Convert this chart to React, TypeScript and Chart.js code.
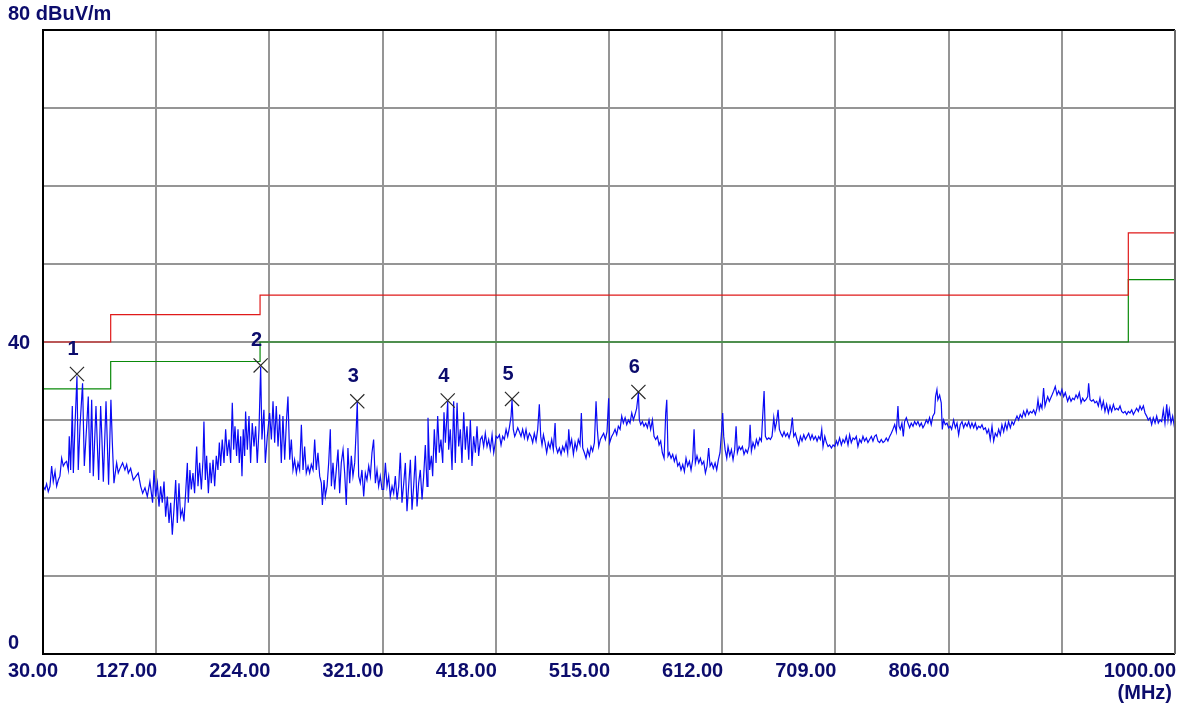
import React, { useEffect, useRef } from 'react';
import { Chart, registerables } from 'chart.js';

Chart.register(...registerables);

const NAVY = '#0c0c6c';
const FONT = 'bold 20px "Liberation Sans", Arial, sans-serif';

const xTickValues = [30, 127, 224, 321, 418, 515, 612, 709, 806, 903, 1000];
const xTickLabels = ['30.00', '127.00', '224.00', '321.00', '418.00', '515.00', '612.00', '709.00', '806.00', '', '1000.00'];
const yTickValues = [0, 10, 20, 30, 40, 50, 60, 70, 80];
const yLabelValues = [80, 40, 0];
const yLabelTexts = ['80 dBuV/m', '40', '0'];

const limitFreq = [30, 88, 88, 216, 216, 960, 960, 1000];
const limitLevel = [40, 40, 43.5, 43.5, 46, 46, 54, 54];
const marginFreq = [30, 88, 88, 216, 216, 960, 960, 1000];
const marginLevel = [34, 34, 37.5, 37.5, 40, 40, 48, 48];

const markerNames = ['1', '2', '3', '4', '5', '6'];
const markerFreq = [59.1, 216.5, 299.3, 376.8, 431.9, 540.2];
const markerLevel = [35.9, 37.0, 32.4, 32.5, 32.7, 33.6];

// measured trace: [frequency MHz, level dBuV/m]
const trace: [number, number][] = [
  [30, 20.8], [30.3, 21.5], [31.7, 21.1], [33.1, 21.8], [34.5, 20.8], [36, 21.5], [37.4, 24.1], [38.8, 22.1], [40.3, 23.4],
  [41.7, 21.5], [43.1, 22.3], [44.5, 22.8], [46, 25.1], [47.4, 24.1], [48.8, 24.5], [50.2, 24.7], [51.7, 23.6],
  [52.5, 27.9], [53.7, 23.6], [55.1, 31.8], [56, 23.2], [57.4, 29.2], [59.1, 35.6], [60.2, 23.6], [61.7, 29.2],
  [63.9, 34.7], [65.4, 24.1], [67.4, 29.2], [68.8, 33.0], [70.2, 23.2], [71.7, 32.6], [73.1, 22.8], [75.4, 31.8],
  [76.5, 27.1], [77.7, 22.3], [79.4, 31.8], [80.5, 27.5], [81.7, 22.1], [84, 32.4], [85.1, 27.1], [86.2, 21.7],
  [88.2, 32.6], [89.4, 27.1], [90.8, 21.9], [93.1, 24.5], [94.5, 23.2], [96, 23.8], [98.2, 24.5], [100.2, 23.6],
  [101.7, 24.3], [103.1, 23.2], [105.1, 23.8], [107.4, 22.3], [109.7, 22.8], [111.6, 23.2], [113.7, 21.5],
  [115.4, 20.6], [117.4, 21.3], [119.4, 20.2], [121.6, 22.1], [123.9, 19.4],
  [125.1, 23.6], [126.5, 20.2], [128, 21.9], [129.4, 18.9], [130.8, 21.5], [132.2, 19.4], [133.7, 22.1], [135.1, 17.6],
  [136.5, 20.2], [138, 16.8], [139.4, 19.4], [140.8, 15.3], [142.2, 18.5], [143.7, 22.3], [145.1, 16.8], [146.5, 21.9],
  [147.9, 17.6], [149.4, 18.5], [150.8, 17.0], [152.2, 20.6], [153.7, 24.5], [154.5, 19.4], [155.9, 23.6], [157.1, 21.1],
  [158.5, 23.2], [159.9, 20.6], [161.7, 26.6], [162.8, 21.5], [164.2, 24.5], [165.7, 21.1], [167.1, 24.9], [167.9, 29.8],
  [169.1, 22.3], [170.2, 25.4], [171.7, 20.6], [173.1, 24.5], [174.2, 21.9], [175.7, 24.9], [177.1, 21.5], [178.5, 25.4],
  [179.9, 23.6], [181.1, 27.1], [182.2, 24.1], [183.6, 27.5], [185.1, 24.5], [186.5, 28.8], [187.9, 25.4], [189.4, 27.5],
  [190.8, 24.5], [192.2, 32.2], [193.4, 26.2], [194.5, 29.2], [195.9, 25.4], [197.1, 28.8], [198.2, 24.5], [199.4, 27.9],
  [200.5, 22.8], [201.6, 28.8], [202.8, 25.4], [203.6, 31.1], [205.1, 26.2], [206.5, 30.5], [207.9, 24.5], [209.3, 29.6],
  [210.8, 26.6], [212.2, 29.2], [213.6, 24.5], [215.1, 28.8], [216.5, 36.8], [217.6, 27.5], [219.3, 31.3], [220.5, 24.5],
  [222.2, 27.9],
  [224.2, 30.9], [225.7, 27.5], [227.1, 32.4], [228.5, 27.1], [229.9, 31.8], [231.4, 26.6], [232.8, 30.7], [234.2, 24.5],
  [235.6, 30.5], [237.1, 24.9], [238.5, 29.6], [239.9, 33.0], [241.4, 24.9], [242.8, 27.5], [244.2, 23.6], [245.6, 24.9],
  [247.1, 23.2], [248.5, 24.5], [249.9, 23.6], [251.4, 29.4], [252.8, 23.6], [254.2, 26.6], [255.6, 23.2], [257.1, 24.1],
  [258.5, 23.2], [259.9, 24.3], [261.4, 23.6], [262.8, 27.5], [264.2, 23.6], [265.6, 25.8], [267.1, 22.8], [268.5, 21.9],
  [269.4, 19.1], [270.8, 22.3], [271.9, 20.2], [273.4, 21.5], [274.8, 24.5], [276.2, 28.8], [277.1, 21.5], [278.5, 24.5],
  [279.9, 21.1], [281.3, 23.6], [282.8, 26.2], [284.2, 20.6], [285.6, 24.5], [287.1, 26.2], [288.5, 23.2], [289.9, 19.1],
  [291.3, 26.4], [292.8, 21.9], [294.2, 25.4], [295.6, 22.8], [297.1, 24.5], [298.5, 29.2], [299.3, 32.4], [300.5, 22.8],
  [301.9, 21.9], [303.3, 23.6], [304.8, 20.2], [306.2, 23.2], [307.6, 22.3], [309.1, 24.1], [310.5, 22.8], [311.9, 25.8],
  [313.3, 27.5], [314.8, 21.9], [316.2, 23.6], [317.6, 21.5], [319.0, 22.8], [320.5, 21.1],
  [321.9, 21.1], [323.4, 24.5], [324.8, 21.5], [326.2, 22.8], [327.6, 20.2], [329.1, 21.5], [330.5, 20.6], [331.9, 22.8],
  [333.4, 19.8], [334.8, 21.5], [336.2, 25.8], [337.6, 19.4], [339.1, 21.9], [340.5, 24.5], [341.9, 18.3], [343.3, 21.5],
  [344.8, 24.9], [346.2, 18.5], [347.6, 21.5], [349.1, 25.4], [350.5, 18.9], [351.9, 21.9], [353.3, 23.6], [354.8, 19.8],
  [356.2, 22.8], [357.6, 26.8], [359.1, 21.5], [359.9, 30.3], [361.3, 23.6], [362.8, 25.4], [363.9, 22.8], [365.3, 28.8],
  [366.8, 24.5], [368.2, 30.5], [369.6, 25.8], [371.0, 27.5], [372.5, 24.5], [373.6, 31.0], [374.8, 27.1], [376.8, 32.4],
  [377.6, 26.2], [379.0, 28.8], [380.5, 23.6], [381.9, 32.4], [383.3, 24.5], [384.8, 32.2], [386.2, 26.6], [387.6, 28.8],
  [389.0, 24.5], [390.5, 31.0], [391.9, 26.2], [393.3, 29.2], [394.8, 24.9], [396.2, 30.0], [397.6, 24.1], [399.0, 27.9],
  [400.5, 25.8], [401.9, 29.2], [403.3, 25.4], [404.8, 27.5], [406.2, 27.9], [407.6, 26.6], [409.0, 28.3], [410.5, 26.6],
  [411.9, 27.5], [413.3, 26.2], [414.8, 28.1], [416.2, 25.8], [417.6, 27.1],
  [418.2, 27.9], [419.6, 27.7], [421.1, 28.1], [422.5, 26.8], [423.9, 27.9], [425.3, 27.5], [426.8, 28.8], [428.2, 27.9],
  [429.6, 29.0], [431.1, 30.5], [431.9, 32.6], [433.0, 28.8], [434.2, 27.9], [435.3, 28.3], [436.8, 29.0], [438.2, 28.5],
  [439.6, 27.9], [441.0, 28.8], [442.5, 27.7], [443.9, 28.8], [445.3, 27.5], [446.8, 28.3], [448.2, 27.9], [449.6, 27.1],
  [451.0, 28.3], [452.5, 27.3], [453.9, 28.8], [455.3, 32.0], [456.5, 27.9], [457.6, 26.8], [458.8, 28.1], [460.2, 27.1],
  [461.6, 25.8], [463.0, 27.1], [464.5, 26.4], [465.9, 27.5], [467.3, 26.2], [468.8, 29.6], [469.6, 26.6], [471.0, 25.8],
  [472.5, 26.4], [473.9, 25.6], [475.3, 26.6], [476.7, 26.0], [478.2, 27.1], [479.6, 25.8], [480.5, 28.8], [481.6, 26.6],
  [483.0, 27.5], [484.5, 25.6], [485.9, 27.1], [487.3, 26.2], [488.7, 27.5], [490.2, 26.8], [491.3, 30.9], [492.5, 26.4],
  [493.9, 25.8], [495.3, 25.1], [496.7, 26.2], [498.2, 25.4], [499.6, 26.6], [501.0, 26.0], [502.5, 27.1], [503.9, 32.4],
  [505.0, 28.8], [506.2, 26.6], [507.6, 27.5], [509.0, 27.9], [510.4, 28.3], [511.9, 27.5], [513.3, 28.5], [514.7, 32.8],
  [515.6, 27.1],
  [517.3, 27.9], [518.8, 28.3], [520.2, 28.8], [521.6, 28.1], [523.0, 29.2], [524.5, 28.8], [525.9, 30.5], [527.3, 29.6],
  [528.8, 30.3], [530.2, 29.4], [531.6, 30.0], [533.0, 29.6], [534.5, 30.9], [535.9, 30.0], [537.3, 30.7], [538.7, 31.5],
  [540.2, 33.5], [541.0, 30.0], [542.2, 29.4], [543.6, 29.8], [545.0, 29.2], [546.5, 29.6], [547.9, 29.0], [549.3, 30.0],
  [550.7, 28.8], [552.2, 30.0], [553.6, 27.9], [555.0, 27.5], [556.5, 27.9], [557.9, 26.8], [559.3, 27.3], [560.7, 25.8],
  [562.2, 25.1], [563.6, 30.9], [564.5, 32.6], [565.6, 25.4], [566.7, 25.8], [568.2, 25.1], [569.6, 25.6], [571.0, 24.7],
  [572.4, 25.4], [573.9, 24.1], [575.3, 24.5], [576.7, 23.6], [578.2, 24.3], [579.6, 23.4], [581.0, 25.1], [582.4, 24.1],
  [583.9, 24.7], [585.3, 23.6], [586.7, 24.9], [587.9, 28.8], [589.0, 24.5], [590.4, 25.4], [591.9, 24.5], [593.3, 25.1],
  [594.7, 24.3], [596.2, 24.7], [597.6, 23.2], [599.0, 24.1], [600.4, 26.4], [601.6, 24.1], [603.0, 24.5], [604.4, 23.8],
  [605.9, 24.5], [607.3, 23.6], [608.7, 24.9], [610.1, 25.8], [611.6, 28.8], [612.4, 30.9], [613.3, 27.9],
  [614.5, 26.2], [615.9, 25.1], [617.0, 26.6], [618.5, 25.4], [619.9, 26.2], [621.3, 24.9], [622.7, 26.2], [623.9, 29.2],
  [625.0, 25.8], [626.5, 26.6], [627.9, 26.2], [629.3, 26.6], [630.7, 25.6], [632.2, 26.2], [633.6, 25.8], [635.0, 26.6],
  [635.9, 29.4], [637.0, 26.0], [638.4, 27.1], [639.9, 26.4], [641.3, 27.5], [642.7, 26.8], [644.2, 27.7], [645.6, 27.3],
  [646.7, 30.5], [647.9, 33.7], [649.0, 27.9], [650.4, 27.5], [651.9, 27.7], [653.3, 27.5], [654.7, 27.9], [656.2, 30.3],
  [657.3, 28.8], [658.4, 29.6], [659.9, 31.3], [661.0, 28.8], [662.2, 28.3], [663.6, 27.9], [665.0, 28.5], [666.4, 27.9],
  [667.9, 28.3], [669.3, 27.7], [670.7, 28.5], [672.1, 30.3], [673.3, 27.9], [674.7, 28.3], [676.1, 27.5], [677.6, 26.8],
  [679.0, 27.9], [680.4, 27.3], [681.9, 28.1], [683.3, 27.5], [684.7, 27.9], [686.1, 28.3], [687.6, 27.5], [689.0, 28.1],
  [690.4, 27.5], [691.9, 27.9], [693.3, 27.3], [694.7, 27.9], [696.1, 27.5], [697.3, 28.8], [698.4, 26.6], [699.9, 27.9],
  [701.3, 27.1], [702.7, 26.6], [704.1, 26.8], [705.6, 26.4], [707.0, 26.8], [708.4, 26.6], [709.9, 27.3], [711.0, 26.8],
  [712.6, 27.7], [714.1, 26.8], [715.5, 27.5], [716.9, 27.1], [718.3, 27.9], [719.8, 26.8], [721.2, 28.1], [722.6, 27.1],
  [724.1, 27.7], [725.5, 27.5], [726.9, 27.9], [728.3, 26.6], [729.8, 27.5], [731.2, 27.1], [732.6, 27.9], [734.0, 27.3],
  [735.5, 27.7], [736.9, 27.1], [738.3, 27.5], [739.8, 27.9], [741.2, 27.3], [742.6, 27.9], [744.0, 28.1], [745.5, 27.3],
  [746.9, 27.1], [748.3, 27.5], [749.8, 27.1], [751.2, 27.3], [752.6, 27.7], [754.0, 27.3], [755.5, 27.9], [756.9, 28.3],
  [758.3, 28.8], [759.8, 29.4], [761.2, 28.5], [762.6, 31.8], [763.5, 29.2], [764.6, 28.8], [766.0, 29.6], [767.2, 27.9],
  [768.3, 29.8], [769.8, 30.3], [771.2, 29.6], [772.6, 29.0], [774.0, 29.6], [775.5, 29.2], [776.9, 29.8], [778.3, 29.4],
  [779.7, 29.8], [781.2, 29.2], [782.6, 29.6], [784.0, 29.0], [785.4, 29.4], [786.9, 30.0], [788.3, 29.6], [789.7, 30.3],
  [791.1, 29.4], [792.5, 30.5], [794.0, 30.9], [794.8, 33.0], [796.0, 33.9], [796.8, 32.6], [798.3, 33.2], [799.7, 32.2],
  [800.6, 28.8], [801.7, 30.0], [803.2, 29.4], [804.6, 29.6], [806.0, 29.0], [807.4, 29.2], [808.6, 28.8],
  [810.3, 30.0], [811.8, 29.0], [813.2, 29.6], [814.6, 28.1], [816.0, 29.4], [817.5, 29.8], [818.9, 29.0], [820.3, 29.6],
  [821.8, 29.2], [823.2, 29.8], [824.6, 29.0], [826.0, 29.6], [827.5, 29.0], [828.9, 29.6], [830.3, 28.8], [831.7, 29.2],
  [833.2, 29.0], [834.6, 29.4], [836.0, 28.8], [837.5, 29.0], [838.9, 28.3], [840.3, 28.8], [841.7, 27.5], [843.2, 29.2],
  [844.6, 27.3], [846.0, 28.3], [847.5, 27.9], [848.9, 28.8], [850.3, 28.1], [851.7, 29.4], [853.2, 28.5], [854.6, 29.6],
  [856.0, 28.8], [857.4, 29.8], [858.9, 29.0], [860.3, 29.8], [861.7, 29.4], [863.2, 30.0], [864.6, 30.5], [866.0, 30.0],
  [867.4, 30.7], [868.9, 30.3], [870.3, 31.1], [871.7, 30.5], [873.2, 31.3], [874.6, 30.7], [876.0, 31.1], [877.4, 30.9],
  [878.9, 31.3], [880.3, 30.7], [881.7, 31.5], [882.6, 32.6], [883.7, 31.3], [884.9, 32.0], [886.0, 31.5], [887.4, 34.1],
  [888.6, 31.8], [889.7, 32.4], [890.9, 33.0], [892.3, 32.4], [893.4, 32.8], [894.6, 33.2], [896.0, 33.7], [897.4, 34.3],
  [898.9, 33.2], [900.3, 33.7], [901.7, 33.2], [903.1, 33.9], [904.6, 33.0], [906.0, 33.5],
  [908.0, 32.4], [909.5, 33.0], [910.9, 32.4], [912.3, 32.8], [913.7, 32.6], [915.2, 33.2], [916.6, 32.8], [918.0, 33.5],
  [919.5, 32.2], [920.9, 32.8], [922.3, 32.4], [923.7, 32.6], [925.2, 33.0], [926.0, 34.7], [927.2, 32.6], [928.6, 32.4],
  [930.0, 32.6], [931.4, 32.2], [932.9, 32.4], [934.3, 31.8], [935.7, 32.8], [937.2, 31.5], [938.6, 32.4], [940.0, 31.1],
  [941.4, 32.0], [942.9, 30.9], [944.3, 31.8], [945.7, 31.1], [947.2, 32.0], [948.6, 31.3], [950.0, 31.5], [951.4, 31.3],
  [952.9, 31.8], [954.3, 31.1], [955.7, 30.9], [957.2, 31.1], [958.6, 30.7], [960.0, 31.1], [961.4, 30.9], [962.9, 31.3],
  [964.3, 30.7], [965.7, 31.1], [967.1, 31.5], [968.6, 31.1], [970.0, 31.8], [971.4, 31.3], [972.9, 31.8], [974.3, 30.9],
  [975.7, 30.5], [977.1, 30.0], [978.6, 30.3], [980.0, 29.4], [981.4, 30.3], [982.9, 29.6], [984.3, 30.5], [985.7, 29.6],
  [987.1, 30.0], [988.6, 29.8], [990.0, 31.3], [991.4, 29.6], [992.9, 32.0], [994.0, 30.0], [995.1, 31.3], [996.6, 29.6],
  [998.0, 30.5], [999.4, 29.2], [1000, 29.4],
];

const overlay = {
  id: 'overlay',
  afterDraw(chart: any) {
    const { ctx, chartArea: ca, scales } = chart;
    const xs = scales.x;
    const ys = scales.y;
    ctx.save();
    // frame
    ctx.lineWidth = 2;
    ctx.strokeStyle = '#000000';
    ctx.beginPath();
    ctx.moveTo(ca.right, ca.top);
    ctx.lineTo(ca.left, ca.top);
    ctx.lineTo(ca.left, ca.bottom);
    ctx.lineTo(ca.right, ca.bottom);
    ctx.stroke();
    ctx.strokeStyle = '#6a6a6a';
    ctx.beginPath();
    ctx.moveTo(ca.right, ca.top);
    ctx.lineTo(ca.right, ca.bottom);
    ctx.stroke();

    ctx.font = FONT;
    ctx.fillStyle = NAVY;
    ctx.textBaseline = 'alphabetic';
    // y labels
    yLabelValues.forEach((v, i) => {
      const py = ys.getPixelForValue(v);
      let base = py + 7;
      if (v === yLabelValues[0]) base = py - 10;
      if (v === 0) base = py - 5;
      ctx.textAlign = 'left';
      ctx.fillText(yLabelTexts[i], 8, base);
    });
    // x labels
    const xb = ys.getPixelForValue(0) + 23;
    xTickValues.forEach((v, i) => {
      const t = xTickLabels[i];
      if (!t) return;
      const px = xs.getPixelForValue(v);
      if (i === 0) {
        ctx.textAlign = 'left';
        ctx.fillText(t, 8, xb);
      } else {
        ctx.textAlign = 'right';
        ctx.fillText(t, px + 1, xb);
      }
    });
    ctx.textAlign = 'right';
    ctx.fillText('(MHz)', ca.right - 3, xb + 22);

    // marker numbers
    ctx.textAlign = 'center';
    markerNames.forEach((n, i) => {
      const px = xs.getPixelForValue(markerFreq[i]);
      const py = ys.getPixelForValue(markerLevel[i]);
      ctx.fillText(n, px - 4, py - 19);
    });
    ctx.restore();
  },
};

export default function App() {
  const ref = useRef<HTMLCanvasElement | null>(null);
  useEffect(() => {
    document.body.style.margin = '0';
    document.body.style.background = '#ffffff';
    const canvas = ref.current;
    if (!canvas) return;
    const chart = new Chart(canvas, {
      type: 'line',
      data: {
        datasets: [
          {
            label: 'markers',
            data: markerFreq.map((f, i) => ({ x: f, y: markerLevel[i] })),
            showLine: false,
            pointStyle: 'crossRot',
            pointRadius: 10,
            pointBorderColor: '#2a2a2a',
            pointBorderWidth: 1.2,
            borderColor: '#2a2a2a',
          } as any,
          {
            label: 'trace',
            data: trace.map(([f, l]) => ({ x: f, y: l })),
            borderColor: '#0a0af5',
            borderWidth: 1.2,
            pointRadius: 0,
            tension: 0,
          },
          {
            label: 'limit',
            data: limitFreq.map((f, i) => ({ x: f, y: limitLevel[i] })),
            borderColor: '#e01a1a',
            borderWidth: 1.2,
            pointRadius: 0,
            tension: 0,
          },
          {
            label: 'margin',
            data: marginFreq.map((f, i) => ({ x: f, y: marginLevel[i] })),
            borderColor: '#0a8a0a',
            borderWidth: 1.2,
            pointRadius: 0,
            tension: 0,
          },
        ],
      },
      options: {
        responsive: false,
        animation: false,
        devicePixelRatio: 1,
        layout: { autoPadding: false, padding: { left: 43, top: 30, right: 5, bottom: 57 } },
        plugins: { legend: { display: false }, tooltip: { enabled: false } },
        scales: {
          x: {
            type: 'linear',
            min: 30,
            max: 1000,
            afterBuildTicks: (axis: any) => {
              axis.ticks = xTickValues.map((v) => ({ value: v }));
            },
            ticks: { display: false },
            grid: { color: '#959595', lineWidth: 2, drawTicks: false },
            border: { display: false },
          },
          y: {
            type: 'linear',
            min: 0,
            max: 80,
            afterBuildTicks: (axis: any) => {
              axis.ticks = yTickValues.map((v) => ({ value: v }));
            },
            ticks: { display: false },
            grid: { color: '#959595', lineWidth: 2, drawTicks: false },
            border: { display: false },
          },
        },
      } as any,
      plugins: [overlay],
    });
    return () => chart.destroy();
  }, []);
  return (
    <div style={{ width: 1180, height: 711, background: '#fff' }}>
      <canvas ref={ref} width={1180} height={711} style={{ display: 'block' }} />
    </div>
  );
}
